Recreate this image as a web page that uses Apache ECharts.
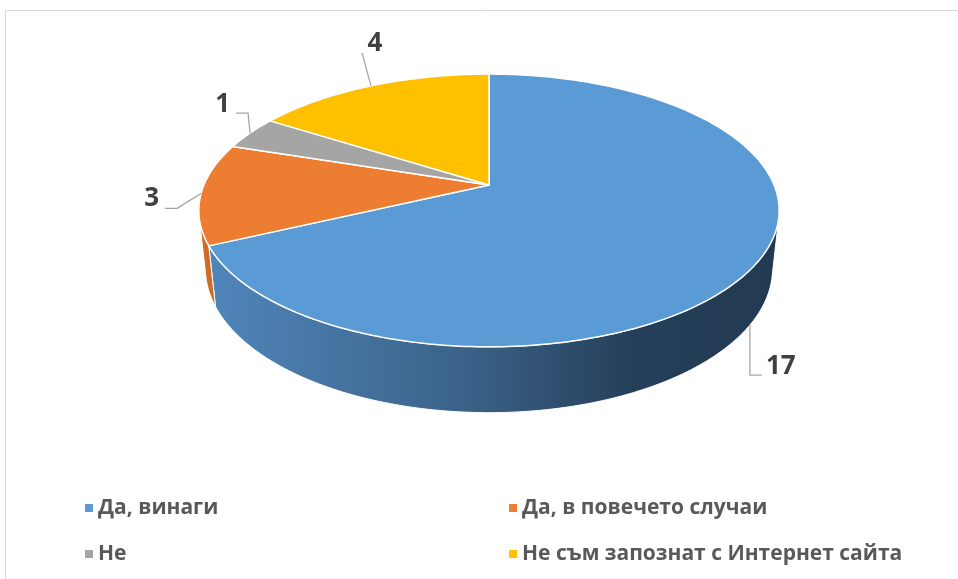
<!DOCTYPE html>
<html>
<head>
<meta charset="utf-8">
<script src="https://cdn.jsdelivr.net/npm/echarts@6/dist/echarts.min.js"></script>
<style>html,body{margin:0;padding:0;background:#fff}#c{width:958px;height:579px}</style>
</head>
<body>
<div id="c"></div>
<script>
// ---- data ----
const categories = ['Да, винаги', 'Да, в повечето случаи', 'Не', 'Не съм запознат с Интернет сайта'];
const values = [17, 3, 1, 4];

// ---- style / layout ----
const topColors = ['#5B9BD5', '#ED7D31', '#A5A5A5', '#FFC000'];
const wallStops = [
  [{offset: 0, color: '#5187bd'}, {offset: 0.45, color: '#3b6389'}, {offset: 0.75, color: '#253f59'}, {offset: 1, color: '#223a51'}],
  [{offset: 0, color: '#cf6c27'}, {offset: 1, color: '#8a4514'}],
  [{offset: 0, color: '#8a8a8a'}, {offset: 1, color: '#555555'}],
  [{offset: 0, color: '#d9a300'}, {offset: 1, color: '#8a6a00'}]
];
const CX = 489, CY = 185, F = 1354, D = 4.75, PHI = 27.5 * Math.PI / 180, H = 0.232;
const sinP = Math.sin(PHI), cosP = Math.cos(PHI);
// label leader config: anchor height, polyline offsets, text offset/alignment
const labelCfg = [
  {h: -H, pts: [[0, 0], [0, 50], [12, 50]], tx: 16, ty: 42, align: 'left'},
  {h: 0, pts: [[0, 0], [-24, 15], [-36, 15]], tx: -42, ty: 5, align: 'right'},
  {h: 0, pts: [[0, 0], [-2, -20], [-14, -20]], tx: -20, ty: -28, align: 'right'},
  {h: 0, pts: [[0, 0], [-9, -33]], tx: 4, ty: -42, align: 'center'}
];

function proj(deg, h, r) {
  if (r === undefined) r = 1;
  const t = deg * Math.PI / 180;
  const x = r * Math.sin(t), z = -r * Math.cos(t);
  const u = h * cosP - z * sinP;
  const d = h * sinP + z * cosP;
  const s = F / (D - d);
  return [CX + x * s, CY - u * s];
}
// visible wall range (normal facing camera)
const lim = Math.acos(-1 / (D * cosP)) * 180 / Math.PI;
const visA = lim, visB = 360 - lim;

const total = values.reduce((a, b) => a + b, 0);
function startAngle(i) {
  let s = 0; for (let k = 0; k < i; k++) s += values[k];
  return s / total * 360;
}

function arc(a, b, h) {
  const pts = [];
  const n = Math.max(2, Math.ceil(Math.abs(b - a)));
  for (let k = 0; k <= n; k++) pts.push(proj(a + (b - a) * k / n, h));
  return pts;
}

function makeRender(i) {
  return function (params, api) {
    const v = api.value(0);
    const a = startAngle(i), b = a + v / total * 360;
    const children = [];
    const wa = Math.max(a, visA), wb = Math.min(b, visB);
    if (wb > wa) {
      const pts = arc(wa, wb, 0).concat(arc(wa, wb, -H).reverse());
      children.push({
        type: 'polygon', z2: 1,
        shape: {points: pts},
        style: {
          fill: {type: 'linear', x: 199, y: 0, x2: 779, y2: 0, global: true, colorStops: wallStops[i]},
          stroke: '#ffffff', lineWidth: 1
        }
      });
    }
    const top = [proj(0, 0, 0)].concat(arc(a, b, 0));
    children.push({
      type: 'polygon', z2: 10,
      shape: {points: top},
      style: {fill: topColors[i], stroke: '#ffffff', lineWidth: 1.5, lineJoin: 'round'}
    });
    const cfg = labelCfg[i];
    const anc = proj((a + b) / 2, cfg.h);
    children.push({
      type: 'polyline', z2: 20,
      shape: {points: cfg.pts.map(p => [anc[0] + p[0], anc[1] + p[1]])},
      style: {stroke: '#a6a6a6', lineWidth: 1.3, fill: null}
    });
    children.push({
      type: 'text', z2: 20,
      x: anc[0] + cfg.tx, y: anc[1] + cfg.ty,
      style: {
        text: String(v), fill: '#404040', fontSize: 26, fontWeight: 'bold',
        fontFamily: '"Open Sans", sans-serif',
        align: cfg.align, verticalAlign: 'middle'
      }
    });
    return {type: 'group', children: children};
  };
}

const series = categories.map((name, i) => ({
  type: 'custom', name: name, coordinateSystem: 'none',
  itemStyle: {color: topColors[i]},
  renderItem: makeRender(i),
  data: [[values[i]]],
  silent: true, animation: false
}));

const legendText = {color: '#595959', fontSize: 21, fontWeight: 'bold', fontFamily: '"Open Sans", "Noto Sans", sans-serif', lineHeight: 24};
const chart = echarts.init(document.getElementById('c'), null, {renderer: 'canvas'});
chart.setOption({
  animation: false,
  backgroundColor: '#ffffff',
  graphic: [{
    type: 'rect', shape: {x: 5.5, y: 10.5, width: 980, height: 600},
    style: {fill: null, stroke: '#d9d9d9', lineWidth: 1}, silent: true
  }],
  legend: [
    {data: [categories[0], categories[2]], orient: 'vertical', left: 80, top: 491, itemWidth: 8, itemHeight: 8, icon: 'rect', itemGap: 22, textStyle: legendText, selectedMode: false},
    {data: [categories[1], categories[3]], orient: 'vertical', left: 504, top: 491, itemWidth: 8, itemHeight: 8, icon: 'rect', itemGap: 22, textStyle: legendText, selectedMode: false}
  ],
  series: series
});
</script>
</body>
</html>
